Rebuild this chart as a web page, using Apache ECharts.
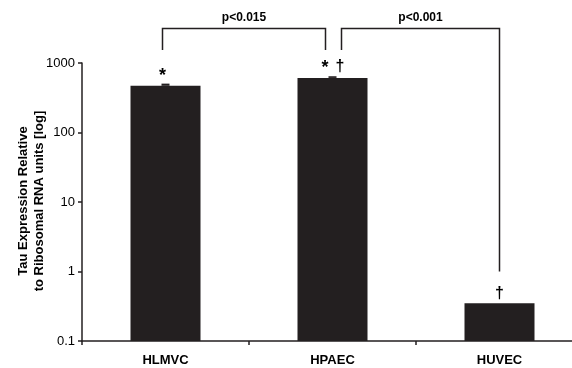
<!DOCTYPE html>
<html>
<head>
<meta charset="utf-8">
<script src="https://cdn.jsdelivr.net/npm/echarts@6/dist/echarts.min.js"></script>
<style>html,body{margin:0;padding:0;background:#fff;overflow:hidden;}#c{width:590px;height:368px;}</style>
</head>
<body>
<div id="c"></div>
<script>
var categories = ['HLMVC', 'HPAEC', 'HUVEC'];
var values = [470, 610, 0.35];
var errUpper = [505, 645, 0.35];
var markers = [['*'], ['*', '\u2020'], ['\u2020']];
var yTicks = [0.1, 1, 10, 100, 1000];
// brackets: [fromCat, toCat, topValue, leftEndValue, rightEndValue, label]
var brackets = [
  [0, 1, 3200, 1540, 1540, 'p<0.015'],
  [1, 2, 3200, 1540, 1.0, 'p<0.001']
];
var yTitle = ['Tau Expression Relative', 'to Ribosomal RNA units [log]'];

var INK = '#231f20';
var FONT = 'Liberation Sans, Arial, sans-serif';
var chart = echarts.init(document.getElementById('c'), null, {renderer: 'canvas'});
var AXMIN = 0.1;

var option = {
  animation: false,
  backgroundColor: '#fff',
  grid: {left: 82, top: 63, width: 501, height: 278, containLabel: false},
  xAxis: {
    type: 'category',
    data: categories,
    axisLine: {lineStyle: {color: INK, width: 1.5}},
    axisTick: {show: true, length: 4, interval: 0, alignWithLabel: false, lineStyle: {color: INK, width: 1.5}},
    axisLabel: {interval: 0, margin: 13, color: '#000', fontSize: 13, fontWeight: 'bold', fontFamily: FONT},
    splitLine: {show: false}
  },
  yAxis: {
    type: 'log',
    logBase: 10,
    min: AXMIN,
    max: 1000,
    axisLine: {show: true, lineStyle: {color: INK, width: 1.5}},
    axisTick: {show: true, length: 4, lineStyle: {color: INK, width: 1.5}},
    axisLabel: {margin: 7, color: '#000', fontSize: 13, fontFamily: FONT,
      formatter: function (v) { var r = yTicks.filter(function(t){return Math.abs(Math.log10(t) - Math.log10(v)) < 1e-6;}); return r.length ? String(r[0]) : ''; }},
    splitLine: {show: false}
  },
  graphic: [{
    type: 'text',
    x: 31,
    y: 201,
    rotation: Math.PI / 2,
    style: {
      text: yTitle.join('\n'),
      font: 'bold 13px ' + FONT,
      fill: '#000',
      textAlign: 'center',
      textVerticalAlign: 'middle',
      lineHeight: 16
    }
  }],
  series: [
    {
      type: 'custom',
      data: values.map(function (v, i) { return [i, v]; }),
      renderItem: function (params, api) {
        var top = api.coord([api.value(0), api.value(1)]);
        var base = api.coord([api.value(0), AXMIN]);
        var w = 70;
        return {type: 'rect', shape: {x: top[0] - w / 2, y: top[1], width: w, height: base[1] - top[1]}, style: {fill: INK}};
      },
      encode: {x: 0, y: 1},
      z: 2
    },
    {
      type: 'custom',
      data: values.map(function (v, i) { return [i, v, errUpper[i]]; }),
      renderItem: function (params, api) {
        var p0 = api.coord([api.value(0), api.value(1)]);
        var p1 = api.coord([api.value(0), api.value(2)]);
        return {type: 'rect', shape: {x: p0[0] - 4, y: p1[1], width: 8, height: Math.max(0, p0[1] - p1[1])}, style: {fill: INK}};
      },
      encode: {x: 0, y: [1, 2]},
      z: 3
    },
    {
      type: 'custom',
      data: values.map(function (v, i) { return [i, errUpper[i]]; }),
      renderItem: function (params, api) {
        var i = params.dataIndex;
        var p = api.coord([api.value(0), api.value(1)]);
        var m = markers[i];
        var children = [];
        var spacing = 15;
        for (var k = 0; k < m.length; k++) {
          var dx = (k - (m.length - 1) / 2) * spacing;
          var isStar = m[k] === '*';
          children.push({
            type: 'text',
            x: p[0] + dx - (isStar && m.length === 1 ? 3 : 0),
            y: p[1] - (isStar ? 8 : 10),
            style: {text: m[k], font: 'bold ' + (isStar ? 18 : 16) + 'px ' + FONT, fill: '#000', textAlign: 'center', textVerticalAlign: 'middle'}
          });
        }
        return {type: 'group', children: children};
      },
      encode: {x: 0, y: 1},
      z: 4
    },
    {
      type: 'custom',
      data: brackets.map(function (b, i) { return [b[0], b[2]]; }),
      renderItem: function (params, api) {
        var b = brackets[params.dataIndex];
        var offL = params.dataIndex === 0 ? -3 : 9;
        var offR = params.dataIndex === 0 ? -7 : 0;
        var lx = api.coord([b[0], b[2]])[0] + offL;
        var rx = api.coord([b[1], b[2]])[0] + offR;
        var ty = Math.round(api.coord([b[0], b[2]])[1]) + 0.5;
        var ly = api.coord([b[0], b[3]])[1];
        var ry = api.coord([b[1], b[4]])[1];
        return {type: 'group', children: [
          {type: 'polyline', shape: {points: [[lx, ly], [lx, ty], [rx, ty], [rx, ry]]}, style: {stroke: INK, lineWidth: 1.5, fill: null}},
          {type: 'text', x: (lx + rx) / 2, y: ty - 11, style: {text: b[5], font: 'bold 12px ' + FONT, fill: '#000', textAlign: 'center', textVerticalAlign: 'middle'}}
        ]};
      },
      encode: {x: 0, y: 1},
      clip: false,
      z: 5
    }
  ]
};
chart.setOption(option);
</script>
</body>
</html>
